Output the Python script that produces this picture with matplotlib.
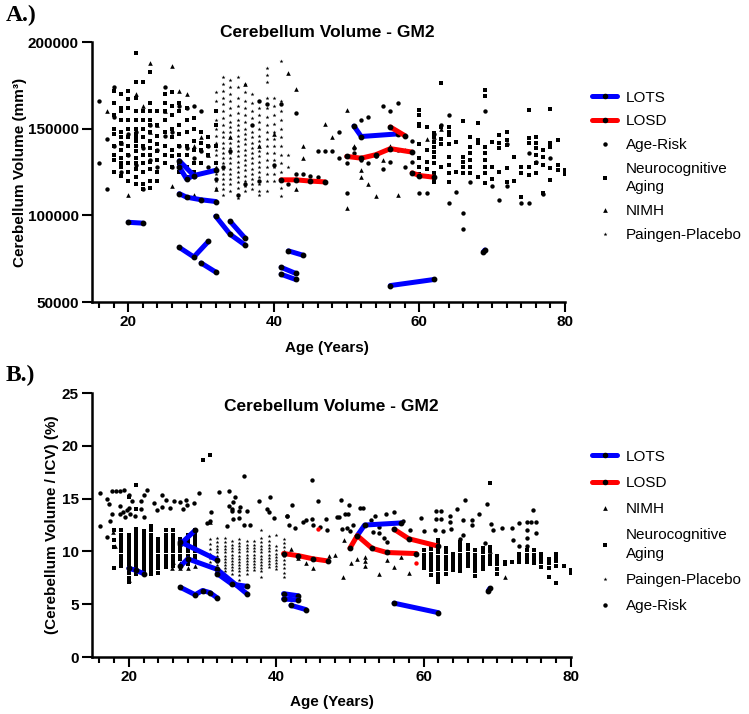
import matplotlib
matplotlib.use("Agg")
import matplotlib.pyplot as plt
from matplotlib.lines import Line2D
from matplotlib.ticker import MultipleLocator

plt.rcParams['font.family'] = ['Liberation Sans', 'DejaVu Sans']

BLUE = '#0000ff'
RED = '#ff0000'

# ---------------- Panel A : cerebellum volume (thousands of mm3) ----------------
lots_a_age = [[20, 22], [27, 29, 31], [30, 32], [32, 34, 36], [34, 36], [42, 44],
              [41, 43], [41, 43], [27, 28, 30, 32], [27, 29], [27, 28, 29, 32],
              [51, 52, 57], [56, 62], [68.8, 69]]
lots_a_val = [[96, 95.5], [81.5, 76, 85], [72.5, 67.3], [99.5, 89, 83], [96.5, 87], [79.5, 77],
              [70, 66.5], [66, 63], [112.5, 110.5, 109, 108], [131.5, 123], [128, 121, 123, 126],
              [151.5, 145.5, 147], [59.5, 63], [79, 80]]

losd_a_age = [[41, 43, 45, 47], [50, 52, 54, 56, 59], [56, 58], [59, 60, 62]]
losd_a_val = [[120.5, 120.5, 119.8, 119.3], [134, 133, 135, 138.5, 136.5], [151, 146],
              [124.5, 123, 122]]

agerisk_a_age = [16, 16, 17, 17, 18, 18, 18, 19, 19, 20, 20, 21, 21, 22, 22, 23, 23, 24, 24, 25,
                 25, 26, 26, 27, 27, 28, 28, 28, 29, 29, 30, 30, 31, 31, 32, 33, 34, 35, 36, 37,
                 38, 38, 39, 40, 41, 42, 43, 43, 44, 45, 46, 46, 47, 48, 49, 49, 50, 50, 51, 51,
                 52, 52, 52, 53, 53, 54, 55, 55, 56, 56, 57, 57, 58, 59, 59, 60, 61, 62, 63, 64,
                 64, 65, 66, 66, 67, 69, 70, 71, 72, 72, 74, 75, 75, 76, 77, 78]
agerisk_a_val = [166, 130, 115, 144, 174, 157, 140, 142, 125, 135, 147, 148, 129, 115, 139, 132, 152, 138, 128, 174,
                 146, 148, 128, 163, 140, 121, 139, 162, 163, 133, 160, 137, 140, 128, 121, 128, 137, 112, 118, 152,
                 166, 120, 164, 129, 164, 118, 159, 124, 124, 123, 122, 137, 137, 137, 148, 133, 130, 113, 139, 136,
                 155, 133, 132, 130, 157, 134, 163, 127, 131, 160, 165, 138, 128, 131, 143, 113, 112.7, 147, 152, 157.9,
                 106.9, 113.5, 101.3, 92.3, 119, 160.4, 117, 109, 117, 141, 107.3, 107.3, 136, 131, 112.3, 133]

nimh_a_age = [17, 19, 20, 21, 22, 23, 23, 24, 25, 26, 26, 27, 28, 29, 29, 30, 31, 32, 34, 36,
              38, 40, 42, 43, 43, 44, 44, 47, 48, 50, 50, 51, 52, 52, 53, 54, 55, 56, 57, 58,
              61, 62, 63]
nimh_a_val = [160, 142, 112, 170, 163, 188, 148, 152, 160, 186, 117, 172, 170, 112, 140, 145, 135, 115, 145, 176,
              140, 147, 182, 173, 115, 140, 133, 153, 145, 104, 161, 140, 126, 122, 118, 111, 132, 140, 112, 138,
              144, 145, 150]

# Neurocognitive Aging, young cohort: one list of volumes per age column
nc_young_a_age = [18, 19, 20, 21, 22, 23, 24, 25, 26, 27, 28, 29, 30, 31, 32]
nc_young_a_val = [
    [172, 165, 158, 150, 147, 140, 135, 132, 125],
    [170, 162, 160, 155, 148, 145, 142, 138, 133, 130, 128, 123],
    [172, 167, 162, 155, 150, 145, 140, 135, 130, 125, 120],
    [193.5, 177, 168, 160, 155, 150, 147, 145, 143, 140, 137, 133, 130, 127, 122, 118],
    [177, 160, 155, 150, 145, 140, 135, 130, 125, 118, 115],
    [183, 165, 160, 155, 152, 148, 143, 139, 135, 131, 127, 120, 116],
    [160, 152, 146, 141, 137, 132, 125, 120],
    [170, 165, 160, 155, 148, 140, 135, 130],
    [171, 163, 158, 150, 145, 138, 134, 128],
    [165, 160, 152, 147, 140, 135, 130, 125],
    [162, 155, 148, 140, 135, 128, 122],
    [156, 150, 143, 138, 130, 125],
    [148, 142, 138, 130],
    [145, 140, 135],
    [160, 152, 140, 130],
]
nc_old_a_age = [60, 61, 62, 63, 64, 65, 66, 67, 68, 69, 70, 71, 72, 73, 74, 75, 76, 77, 78, 79, 80]
nc_old_a_val = [
    [160.8, 157.9, 152.7, 151.5, 141, 133, 128, 124],
    [150.8, 138, 131, 127, 123],
    [147.7, 145.4, 142.5, 139.6, 136.7, 133.8, 130, 124.2, 121.3, 119.4],
    [176.5, 151.2, 143.8, 141.1, 128],
    [151.2, 148.3, 146.3, 141, 133.8, 129, 124.2, 119.4],
    [142.5, 125],
    [154.6, 133.8, 131, 128.1, 124.2],
    [145.4, 139.6, 135.8, 131.9, 128.1, 124.2],
    [153.5, 143.5, 141.5, 122],
    [172.3, 168.8, 139.6, 135.8, 131.9, 128.1, 124.2, 118.5],
    [142.5, 128, 121],
    [146.3, 141.5, 138.6, 125],
    [148.3, 143.5, 140.6, 127.1, 119.4],
    [133.8, 120],
    [128.1, 124.2, 110.8],
    [160.8, 144.4, 141.5, 128.1, 123.3],
    [145.4, 141.5, 138.6, 134.8, 130, 124.2],
    [137.7, 133.8, 129, 112.7],
    [161.3, 141.5, 139.6, 127.1, 120.4],
    [143.5, 129, 126.2],
    [126, 124],
]
paingen_a_age = [32, 33, 34, 35, 36, 37, 38, 39, 40, 41, 42]
paingen_a_val = [
    [171, 166, 160, 155, 150, 146, 142, 138, 135, 131, 128, 124, 120, 116],
    [180, 176, 172, 168, 164, 160, 156, 152, 148, 145, 142, 139, 136, 133, 130, 127, 124, 121, 118, 115, 112],
    [178, 174, 170, 166, 162, 158, 154, 151, 148, 145, 142, 139, 136, 133, 130, 127, 124, 121, 118, 114],
    [180, 174, 168, 163, 159, 155, 152, 149, 146, 143, 140, 137, 134, 131, 128, 125, 122, 119, 116, 110],
    [176, 171, 166, 162, 158, 154, 150, 147, 144, 141, 138, 135, 132, 129, 126, 123, 120, 117, 114],
    [170, 165, 160, 156, 152, 148, 145, 142, 139, 136, 133, 130, 127, 124, 121, 118, 115],
    [166, 162, 158, 154, 150, 146, 143, 140, 137, 134, 131, 128, 125, 122, 118, 114, 112],
    [185, 181, 177, 168, 162, 157, 152, 148, 144, 140, 136, 132, 128, 124, 120, 114],
    [168, 163, 158, 153, 148, 144, 140, 136, 132, 128, 124, 120],
    [189, 166, 160, 155, 150, 145, 140, 135, 130, 125, 120, 116, 111],
    [135, 128, 118],
]

# ---------------- Panel B : cerebellum volume / ICV (%) ----------------
lots_b_age = [[20, 21, 22], [27, 29], [27, 32], [27, 28, 32, 36], [32, 34, 36],
              [27, 29, 30, 31, 32], [41, 43], [41, 43], [42, 44], [51, 52, 57], [56, 62], [68.8, 69]]
lots_b_val = [[8.4, 8.2, 7.9], [10.7, 12.0], [10.9, 9.2], [8.6, 9.3, 8.3, 6.0], [7.9, 6.9, 6.7],
              [6.6, 5.9, 6.3, 6.1, 5.6], [6.0, 5.8], [5.5, 5.4], [4.9, 4.5], [11.5, 12.5, 12.7],
              [5.1, 4.2], [6.3, 6.5]]

losd_b_age = [[41, 43, 45, 47], [50, 51, 53, 55, 59], [56, 58, 62]]
losd_b_val = [[9.8, 9.6, 9.3, 9.1], [10.3, 11.5, 10.3, 9.9, 9.8], [12.1, 11.2, 10.5]]
losd_b_dot_age = [45.7, 59]
losd_b_dot_val = [12.1, 8.9]

agerisk_b_age = [16.1, 17, 17.7, 18.2, 18.8, 19.3, 17.3, 17.7, 17.5, 16.1, 17, 18.8, 18.8, 19.2, 19.5, 19.7,
                 20, 20.2, 20, 20.4, 21.6, 22, 22.5, 21.6, 20.9, 22, 23.4, 24.5, 25, 23.8, 24.5, 25.6,
                 26.1, 27, 27.7, 27.9, 27.4, 28.8, 29.5, 32.2, 31.1, 31, 30.6, 33.6, 34.4, 34.2, 34,
                 33.6, 34, 35, 35.1, 34.9, 34.2, 33.3, 35.6, 36, 37.6, 39.2, 38.7, 39, 39.7, 35.6, 36.5,
                 41.5, 44.9, 45.7, 41.4, 42.1, 41.7, 42.6, 43.7, 44.1, 44.9, 45, 46, 46.8, 46.9, 48.3,
                 48.5, 48.9, 48.8, 49.4, 49.8, 49.9, 49.6, 50, 51.4, 51.8, 50.4, 52, 52.8, 53.4, 54,
                 54.9, 53.2, 53.9, 54.6, 55, 56, 57.2, 58.1, 59.7, 60.1, 61.5, 61.7, 62.4, 61.7, 62.4,
                 62.6, 63.6, 63.6, 63.7, 64.5, 65, 65.3, 65.6, 65.4, 66.6, 66.6, 67.5, 68.6, 68.4,
                 69.1, 69.4, 70.7, 72, 72.9, 72.1, 74, 74.6, 75.3, 74.8, 75.2, 74, 74.1, 73, 74]
agerisk_b_val = [15.5, 15.0, 15.7, 15.7, 15.7, 15.8, 14.5, 13.5, 12.9, 12.4, 11.4, 14.3, 13.5, 13.7, 13.3, 13.9,
                 14.1, 13.5, 15.3, 14.8, 14.8, 15.3, 15.8, 14.0, 13.4, 13.3, 14.6, 15.3, 14.9, 13.9, 14.2, 14.1,
                 14.8, 14.7, 14.9, 14.4, 14.0, 14.6, 15.5, 15.6, 13.7, 12.9, 12.7, 15.7, 15.2, 14.7, 14.0,
                 14.3, 13.8, 13.8, 14.2, 13.2, 13.1, 12.4, 17.1, 13.8, 14.8, 15.2, 14.0, 13.7, 13.2, 12.5, 12.5,
                 13.4, 16.8, 14.8, 13.4, 14.4, 12.5, 12.2, 12.8, 13.0, 13.1, 12.5, 12.3, 13.1, 12.0, 13.3,
                 13.3, 12.1, 14.9, 13.5, 13.5, 14.4, 12.2, 11.9, 14.1, 14.1, 12.5, 12.5, 13.0, 13.35, 12.3,
                 13.5, 11.8, 11.7, 11.3, 10.9, 13.7, 12.9, 12.0, 13.2, 11.9, 12.0, 13.8, 13.8, 13.1, 13.1,
                 11.9, 13.4, 12.8, 12.1, 14.0, 11.2, 11.6, 14.9, 13.0, 12.5, 13.0, 13.5, 14.5, 10.8,
                 12.6, 12.0, 12.2, 12.2, 12.7, 11.1, 12.8, 12.8, 12.8, 13.9, 11.7, 12.0, 11.3, 10.5, 10.5]

nimh_b_age = [18.1, 17.9, 20, 26.9, 25.9, 28, 27, 26, 29, 31, 42, 43, 44, 45, 47.1, 48, 49.2, 49.1,
              50.1, 51, 52, 52, 52, 54, 55, 56, 57, 58, 69, 71]
nimh_b_val = [10.5, 11.8, 7.3, 8.4, 8.4, 8.4, 8.9, 9.0, 8.6, 12.8, 10.2, 9.4, 8.9, 8.4, 9.6, 9.7, 11.1, 7.6,
              8.9, 9.3, 8.6, 9.1, 9.5, 7.9, 9.2, 8.5, 9.5, 8.0, 10.0, 7.6]

nc_young_b_age = [18, 19, 20, 21, 22, 23, 24, 25, 26, 27, 28, 29, 30, 31]
nc_young_b_val = [
    [12.0, 11.1, 10.4, 8.4],
    [12.0, 11.6, 11.2, 10.8, 10.4, 10.0, 9.6, 9.2, 8.8, 8.6],
    [15.2, 11.6, 11.3, 11.0, 10.7, 10.4, 10.1, 9.8, 9.5, 9.2, 8.9, 8.6, 8.3, 8.0, 7.5, 7.1],
    [16.3, 14.0, 12.1, 11.8, 11.5, 11.2, 10.9, 10.6, 10.3, 10.0, 9.7, 9.4, 9.1, 8.8, 8.5, 8.2, 7.9],
    [11.9, 11.6, 11.3, 11.0, 10.7, 10.4, 10.1, 9.8, 9.5, 9.2, 8.9, 8.6, 8.3, 8.0],
    [12.4, 12.0, 11.6, 11.2, 10.9, 10.6, 10.3, 10.0, 9.7, 9.4, 9.1, 8.8, 8.5, 8.2, 7.9],
    [11.2, 10.8, 10.4, 10.0, 9.6, 9.3, 9.0, 8.7, 8.4, 8.0],
    [12.0, 11.6, 11.2, 10.8, 10.4, 10.0, 9.6, 9.2, 8.9, 8.5],
    [12.0, 11.6, 11.2, 10.8, 10.4, 10.0, 9.6, 9.2, 8.9, 8.6],
    [11.2, 10.8, 10.4, 10.0, 9.6, 9.3],
    [11.6, 11.2, 10.8, 10.4, 10.0, 9.6, 9.2, 8.8],
    [12.0, 11.6, 11.2, 10.8, 10.4, 10.0, 9.6, 9.3],
    [18.7],
    [19.1],
]
nc_old_b_age = [60, 61, 62, 63, 64, 65, 66, 67, 68, 69, 70, 71, 72, 73, 74, 75, 76, 77, 78, 79, 80]
nc_old_b_val = [
    [10.1, 9.7, 9.4, 9.0, 8.7, 8.4],
    [10.6, 10.2, 9.8, 9.4, 9.0, 8.6, 8.2, 7.8],
    [11.1, 10.7, 10.3, 9.9, 9.5, 9.1, 8.7, 8.3, 7.9, 7.5, 7.1],
    [10.3, 9.9, 9.5, 9.1, 8.7, 8.3, 7.9],
    [9.8, 9.4, 9.0, 8.6, 8.2],
    [10.9, 10.5, 10.1, 9.7, 9.3, 8.9, 8.5, 8.1],
    [10.6, 10.2, 9.8, 9.4, 9.0, 8.6],
    [10.1, 9.7, 9.3, 8.9, 8.5, 8.1, 7.7],
    [10.3, 9.9, 9.5, 9.1, 8.7, 8.3],
    [16.5, 10.4, 10.0, 9.6, 9.2, 8.8],
    [9.6, 9.2, 8.8, 8.3, 7.9],
    [9.0, 8.8],
    [9.0],
    [9.8, 9.4, 9.0],
    [10.1, 9.7, 9.3, 9.0],
    [10.1, 9.7, 9.3, 8.9],
    [9.8, 9.4, 9.0, 8.5],
    [9.3, 8.9, 8.4, 7.6],
    [9.8, 9.5, 9.1, 8.6, 7.0],
    [8.6],
    [8.2, 8.0],
]
paingen_b_age = [31, 32, 33, 34, 35, 36, 37, 38, 39, 40, 41]
paingen_b_val = [
    [11.2, 10.7, 10.2, 9.8, 9.4, 9.0],
    [11.3, 10.9, 10.5, 10.2, 9.9, 9.6, 9.3, 9.0, 8.7, 8.4, 8.1, 7.8],
    [11.3, 10.9, 10.5, 10.2, 9.9, 9.6, 9.3, 9.0, 8.7, 8.4, 8.1, 7.8, 7.5],
    [11.0, 10.6, 10.3, 10.0, 9.7, 9.4, 9.1, 8.8, 8.5, 8.2, 7.9],
    [11.2, 10.8, 10.5, 10.2, 9.9, 9.6, 9.3, 9.0, 8.7, 8.4, 8.1, 7.8, 7.3],
    [11.0, 10.6, 10.3, 10.0, 9.7, 9.4, 9.1, 8.8, 8.5, 8.2, 7.9],
    [11.0, 10.6, 10.3, 10.0, 9.7, 9.4, 9.1, 8.8, 8.5, 8.2],
    [12.0, 11.3, 10.9, 10.5, 10.2, 9.9, 9.6, 9.3, 9.0, 8.7, 8.4, 8.1, 7.6],
    [11.5, 11.0, 10.6, 10.3, 10.0, 9.7, 9.4, 9.1, 8.8, 8.5],
    [11.6, 10.5, 10.1, 9.8, 9.5, 9.2, 8.9, 8.6, 8.3],
    [11.2, 10.8, 10.4, 10.0, 9.6, 9.2, 8.8, 8.4, 8.0, 7.6],
]


def flatten(ages, cols):
    xs, ys = [], []
    for a, c in zip(ages, cols):
        xs += [a] * len(c)
        ys += c
    return xs, ys


def scale(vals, k):
    return [v * k for v in vals]


def style_axes(ax, ylim, ystep):
    ax.set_xlim(15, 80)
    ax.set_ylim(*ylim)
    for s in ['top', 'right']:
        ax.spines[s].set_visible(False)
    for s in ['left', 'bottom']:
        ax.spines[s].set_linewidth(1.8)
    ax.set_xticks([20, 40, 60, 80])
    ax.xaxis.set_minor_locator(MultipleLocator(2))
    ax.yaxis.set_major_locator(MultipleLocator(ystep))
    ax.tick_params(which='major', length=7.2, width=1.5, labelsize=11, pad=2.5)
    ax.tick_params(which='minor', axis='x', length=4.3, width=1.5)
    for lab in ax.get_xticklabels() + ax.get_yticklabels():
        lab.set_fontweight('bold')
    ax.set_xlabel('Age (Years)', fontsize=11, fontweight='bold')


def draw_panel(ax, k, lots, losd, groups):
    for marker, size, xs, ys in groups:
        ax.scatter(xs, scale(ys, k), marker=marker, s=size, color='black',
                   linewidths=0, zorder=2)
    for ages, vals in zip(*lots):
        ax.plot(ages, scale(vals, k), color=BLUE, lw=3.6, solid_capstyle='round',
                marker='o', ms=3.2, mfc='black', mec='black', zorder=3)
    for ages, vals in zip(*losd):
        ax.plot(ages, scale(vals, k), color=RED, lw=3.6, solid_capstyle='round',
                marker='o', ms=3.2, mfc='black', mec='black', zorder=3)


fig = plt.figure(figsize=(7.49, 7.14), dpi=100)
ax_a = fig.add_axes([0.1228, 0.5770, 0.6315, 0.3641])
ax_b = fig.add_axes([0.1228, 0.0798, 0.6395, 0.3697])

# ---- panel A ----
nc_a_x, nc_a_y = flatten(nc_young_a_age + nc_old_a_age, nc_young_a_val + nc_old_a_val)
pg_a_x, pg_a_y = flatten(paingen_a_age, paingen_a_val)
draw_panel(ax_a, 1000, (lots_a_age, lots_a_val), (losd_a_age, losd_a_val), [
    ('s', 10, nc_a_x, nc_a_y),
    ('*', 9, pg_a_x, pg_a_y),
    ('^', 11, nimh_a_age, nimh_a_val),
    ('o', 10, agerisk_a_age, agerisk_a_val),
])
style_axes(ax_a, (50000, 200000), 50000)
ax_a.xaxis.set_label_coords(0.497, -0.15)
ax_a.set_ylabel('Cerebellum Volume (mm³)', fontsize=11, fontweight='bold')
ax_a.yaxis.set_label_coords(-0.137, 0.5)

# ---- panel B ----
nc_b_x, nc_b_y = flatten(nc_young_b_age + nc_old_b_age, nc_young_b_val + nc_old_b_val)
pg_b_x, pg_b_y = flatten(paingen_b_age, paingen_b_val)
draw_panel(ax_b, 1, (lots_b_age, lots_b_val), (losd_b_age, losd_b_val), [
    ('s', 10, nc_b_x, nc_b_y),
    ('*', 8, pg_b_x, pg_b_y),
    ('^', 11, nimh_b_age, nimh_b_val),
    ('o', 10, agerisk_b_age, agerisk_b_val),
])
ax_b.scatter(losd_b_dot_age, losd_b_dot_val, color=RED, s=10, linewidths=0, zorder=3)
style_axes(ax_b, (0, 25), 5)
ax_b.xaxis.set_label_coords(0.50, -0.145)
ax_b.set_ylabel('(Cerebellum Volume / ICV) (%)', fontsize=11, fontweight='bold')
ax_b.yaxis.set_label_coords(-0.069, 0.5)

# titles and panel letters
fig.text(0.437, 0.955, 'Cerebellum Volume - GM2', ha='center', va='center',
         fontsize=12.5, fontweight='bold')
fig.text(0.442, 0.431, 'Cerebellum Volume - GM2', ha='center', va='center',
         fontsize=12.5, fontweight='bold')
fig.text(0.008, 0.979, 'A.)', ha='left', va='center', fontsize=17, fontweight='bold',
         family='Liberation Serif')
fig.text(0.008, 0.474, 'B.)', ha='left', va='center', fontsize=17, fontweight='bold',
         family='Liberation Serif')


# legends
def line_h(c):
    return Line2D([], [], color=c, lw=3.6, solid_capstyle='round', marker='o', ms=3,
                  mfc='black', mec='black')


def mark_h(m, ms):
    return Line2D([], [], ls='none', marker=m, ms=ms, color='black', mew=0)


leg_kw = dict(frameon=False, fontsize=11, borderpad=0, borderaxespad=0,
              handlelength=1.6, handletextpad=0.6, loc='upper left')
leg_a = fig.legend([line_h(BLUE), line_h(RED), mark_h('o', 3.2), mark_h('s', 3.2),
                    mark_h('^', 3.4), mark_h('*', 3)],
                   ['LOTS', 'LOSD', 'Age-Risk', 'Neurocognitive\nAging', 'NIMH', 'Paingen-Placebo'],
                   bbox_to_anchor=(0.791, 0.873), labelspacing=0.64, **leg_kw)
leg_b = fig.legend([line_h(BLUE), line_h(RED), mark_h('^', 3.4), mark_h('s', 3.2),
                    mark_h('*', 3), mark_h('o', 3.2)],
                   ['LOTS', 'LOSD', 'NIMH', 'Neurocognitive\nAging', 'Paingen-Placebo', 'Age-Risk'],
                   bbox_to_anchor=(0.791, 0.370), labelspacing=0.8, **leg_kw)
for leg in (leg_a, leg_b):
    for t in leg.get_texts():
        t.set_linespacing(1.4)

fig.savefig('out.png', dpi=100)
